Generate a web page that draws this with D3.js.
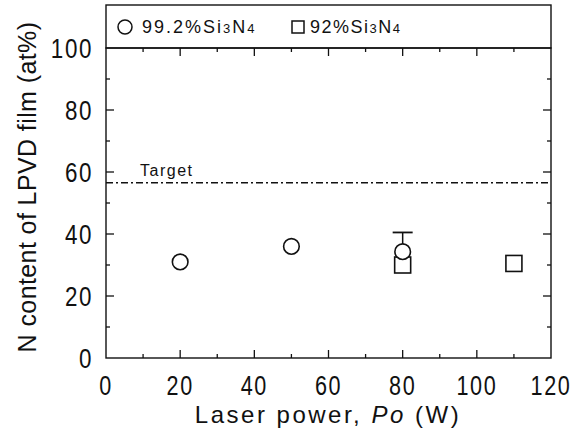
<!DOCTYPE html>
<html lang='en'>
<head>
<meta charset='utf-8'>
<script src='https://cdn.jsdelivr.net/npm/d3@7'></script>
<style>
body { margin: 0; background: #fff; }
text { font-family: 'Liberation Sans', Arial, sans-serif; fill: #111; }
</style>
</head>
<body>
<svg id='svg' width='586' height='434'></svg>
<script>
// data
var circlePower = [20, 50, 80];
var circleN = [31, 36, 34.3];
var circleErrTop = [null, null, 40.5];
var squarePower = [80, 110];
var squareN = [30, 30.5];
var targetN = 56.5;
var xTicks = [0, 20, 40, 60, 80, 100, 120];
var yTicks = [0, 20, 40, 60, 80, 100];

var svg = d3.select('#svg');
var pLeft = 106, pRight = 551, pTop = 48, pBottom = 358;

var x = d3.scaleLinear().domain([0, 120]).range([pLeft, pRight]);
var y = d3.scaleLinear().domain([0, 100]).range([pBottom, pTop]);

// legend box above the plot
svg.append('rect').attr('x', pLeft).attr('y', 5).attr('width', pRight - pLeft).attr('height', pTop - 5)
  .attr('fill', 'none').attr('stroke', '#111').attr('stroke-width', 1.4);
// plot frame
svg.append('rect').attr('x', pLeft).attr('y', pTop).attr('width', pRight - pLeft).attr('height', pBottom - pTop)
  .attr('fill', 'none').attr('stroke', '#111').attr('stroke-width', 1.4);

var g = svg.append('g');
// inward ticks: major + minor on all sides
var xMinor = d3.range(10, 120, 20);
var yMinor = d3.range(10, 100, 20);
function xticks(vals, len) {
  vals.forEach(function(v) {
    g.append('line').attr('x1', x(v)).attr('x2', x(v)).attr('y1', pBottom).attr('y2', pBottom - len).attr('stroke', '#111').attr('stroke-width', 1.3);
    g.append('line').attr('x1', x(v)).attr('x2', x(v)).attr('y1', pTop).attr('y2', pTop + len).attr('stroke', '#111').attr('stroke-width', 1.3);
  });
}
function yticks(vals, len) {
  vals.forEach(function(v) {
    g.append('line').attr('y1', y(v)).attr('y2', y(v)).attr('x1', pLeft).attr('x2', pLeft + len).attr('stroke', '#111').attr('stroke-width', 1.3);
    g.append('line').attr('y1', y(v)).attr('y2', y(v)).attr('x1', pRight).attr('x2', pRight - len).attr('stroke', '#111').attr('stroke-width', 1.3);
  });
}
xticks(xTicks.slice(1, -1), 8); xticks(xMinor, 4);
yticks(yTicks.slice(1, -1), 8); yticks(yMinor, 4);

// tick labels, horizontally condensed like the original typeface
svg.selectAll('.xl').data(xTicks).enter().append('text')
  .attr('transform', d => 'translate(' + x(d) + ',' + (pBottom + 37) + ') scale(0.8,1)')
  .attr('text-anchor', 'middle').attr('font-size', 27).attr('letter-spacing', 2).text(d => d);
svg.selectAll('.yl').data(yTicks).enter().append('text')
  .attr('transform', d => 'translate(' + (pLeft - 13) + ',' + (y(d) + 10) + ') scale(0.8,1)')
  .attr('text-anchor', 'end').attr('font-size', 28).attr('letter-spacing', 2).text(d => d);

// axis titles
var xt = svg.append('text').attr('x', 328).attr('y', 423).attr('text-anchor', 'middle')
  .attr('font-size', 24).attr('letter-spacing', 2.5);
xt.append('tspan').text('Laser power, ');
xt.append('tspan').attr('font-style', 'italic').text('Po');
xt.append('tspan').text('  (W)');
svg.append('text').attr('transform', 'translate(36,187) rotate(-90)')
  .attr('text-anchor', 'middle').attr('font-size', 25).attr('letter-spacing', 0.4)
  .text('N content of LPVD film (at%)');

// target line
svg.append('line').attr('x1', pLeft).attr('x2', pRight).attr('y1', y(targetN)).attr('y2', y(targetN))
  .attr('stroke', '#111').attr('stroke-width', 1.5).attr('stroke-dasharray', '7,3,2,3');
svg.append('text').attr('x', 140).attr('y', 176).attr('font-size', 16).attr('letter-spacing', 1.5).text('Target');

// error bars
circlePower.forEach(function(p, i) {
  if (circleErrTop[i] == null) return;
  svg.append('line').attr('x1', x(p)).attr('x2', x(p)).attr('y1', y(circleN[i])).attr('y2', y(circleErrTop[i])).attr('stroke', '#111').attr('stroke-width', 1.5);
  svg.append('line').attr('x1', x(p) - 10).attr('x2', x(p) + 10).attr('y1', y(circleErrTop[i])).attr('y2', y(circleErrTop[i])).attr('stroke', '#111').attr('stroke-width', 1.8);
});

// markers
svg.selectAll('.sq').data(squarePower).enter().append('rect')
  .attr('x', d => x(d) - 8).attr('y', (d, i) => y(squareN[i]) - 8).attr('width', 16).attr('height', 16)
  .attr('fill', '#fff').attr('stroke', '#111').attr('stroke-width', 1.6);
svg.selectAll('.ci').data(circlePower).enter().append('circle')
  .attr('cx', d => x(d)).attr('cy', (d, i) => y(circleN[i])).attr('r', 7.8)
  .attr('fill', '#fff').attr('stroke', '#111').attr('stroke-width', 1.6);

// legend
svg.append('circle').attr('cx', 125).attr('cy', 27).attr('r', 7).attr('fill', 'none').attr('stroke', '#111').attr('stroke-width', 1.5);
var l1 = svg.append('text').attr('x', 142).attr('y', 33).attr('font-size', 18).attr('letter-spacing', 2);
l1.append('tspan').text('99.2%Si');
l1.append('tspan').attr('font-size', 13).text('3');
l1.append('tspan').text('N');
l1.append('tspan').attr('font-size', 13).text('4');
svg.append('rect').attr('x', 292).attr('y', 21).attr('width', 12).attr('height', 12).attr('fill', 'none').attr('stroke', '#111').attr('stroke-width', 1.5);
var l2 = svg.append('text').attr('x', 310).attr('y', 33).attr('font-size', 18).attr('letter-spacing', 1.5);
l2.append('tspan').text('92%Si');
l2.append('tspan').attr('font-size', 13).text('3');
l2.append('tspan').text('N');
l2.append('tspan').attr('font-size', 13).text('4');
</script>
</body>
</html>
